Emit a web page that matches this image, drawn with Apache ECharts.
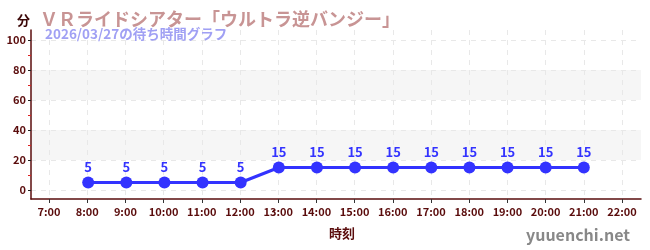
<!DOCTYPE html>
<html><head><meta charset="utf-8">
<script src="https://cdn.jsdelivr.net/npm/echarts@6/dist/echarts.min.js"></script>
<style>html,body{margin:0;padding:0;background:#fff}#c{width:650px;height:250px}</style>
</head><body><div id="c"></div>
<script>
const titleText = 'ＶＲライドシアター「ウルトラ逆バンジー」';
const subText = '2026/03/27の待ち時間グラフ';
const hours = [8, 9, 10, 11, 12, 13, 14, 15, 16, 17, 18, 19, 20, 21];
const waits = [5, 5, 5, 5, 5, 15, 15, 15, 15, 15, 15, 15, 15, 15];
const xTickMin = 7, xTickMax = 22;
const yTickMax = 100;

const maroon = '#5a0c0c';
const font = '"Noto Sans CJK JP", "Noto Sans", sans-serif';
const chart = echarts.init(document.getElementById('c'), null, {renderer: 'canvas'});
chart.setOption({
  animation: false,
  textStyle: {fontFamily: font},
  title: [
    {text: titleText, left: 35, top: 5, textStyle: {fontSize: 18, fontWeight: 'bold', color: '#c89494', fontFamily: font}},
    {text: subText, left: 40, top: 22, textStyle: {fontSize: 13.5, fontWeight: 'bold', color: '#a0a0f4', fontFamily: font}},
    {text: '分', left: 12, top: 9, textStyle: {fontSize: 13, fontWeight: 'bold', color: '#3a0606', fontFamily: font}},
    {text: '時刻', left: 324, top: 222, textStyle: {fontSize: 13, fontWeight: 'bold', color: maroon, fontFamily: font}},
    {text: 'yuuenchi.net', right: 15, top: 222, textStyle: {fontSize: 16, fontWeight: 'bold', color: '#888888', fontFamily: font}}
  ],
  grid: [
    {left: 31, right: 9, top: 40, bottom: 60},
    {left: 31, right: 9, top: 30, bottom: 51},
    {left: 49, right: 28, top: 30, bottom: 51}
  ],
  xAxis: [
    {gridIndex: 0, type: 'value', min: 6.5, max: 22.5, show: false},
    {gridIndex: 1, type: 'value', min: 0, max: 1, axisLine: {show: true, lineStyle: {color: maroon, width: 1.5}}, axisTick: {show: false}, axisLabel: {show: false}, splitLine: {show: false}},
    {gridIndex: 2, type: 'value', min: xTickMin, max: xTickMax, interval: 1,
      axisLine: {show: false},
      axisTick: {show: true, length: 4, lineStyle: {color: '#333'}},
      axisLabel: {color: maroon, fontSize: 11, fontWeight: 'bold', margin: 7, formatter: v => v + ':00'},
      splitLine: {show: true, lineStyle: {color: '#e8e8e8', type: [5, 5]}}}
  ],
  yAxis: [
    {gridIndex: 0, type: 'value', min: 0, max: yTickMax, interval: 20,
      axisLine: {show: false},
      axisTick: {show: true, length: 3, lineStyle: {color: '#222'}},
      minorTick: {show: true, splitNumber: 2, length: 3, lineStyle: {color: '#dd2222'}},
      axisLabel: {color: maroon, fontSize: 11, fontWeight: 'bold', margin: 5},
      splitLine: {show: true, lineStyle: {color: '#e8e8e8', type: [5, 5]}},
      splitArea: {show: true, areaStyle: {color: ['rgba(0,0,0,0)', '#f6f6f6']}}},
    {gridIndex: 1, type: 'value', min: 0, max: 1, axisLine: {show: true, lineStyle: {color: maroon, width: 1.5}}, axisTick: {show: false}, axisLabel: {show: false}, splitLine: {show: false}},
    {gridIndex: 2, type: 'value', min: 0, max: 1, show: false}
  ],
  series: [{
    type: 'line', xAxisIndex: 0, yAxisIndex: 0,
    data: hours.map((h, i) => [h, waits[i]]),
    symbol: 'circle', symbolSize: 12,
    lineStyle: {color: '#3333ff', width: 3},
    itemStyle: {color: '#3333ff'},
    label: {show: true, position: 'top', distance: 3, color: '#3333ff', fontSize: 13, fontWeight: 'bold'}
  }]
});
</script></body></html>
